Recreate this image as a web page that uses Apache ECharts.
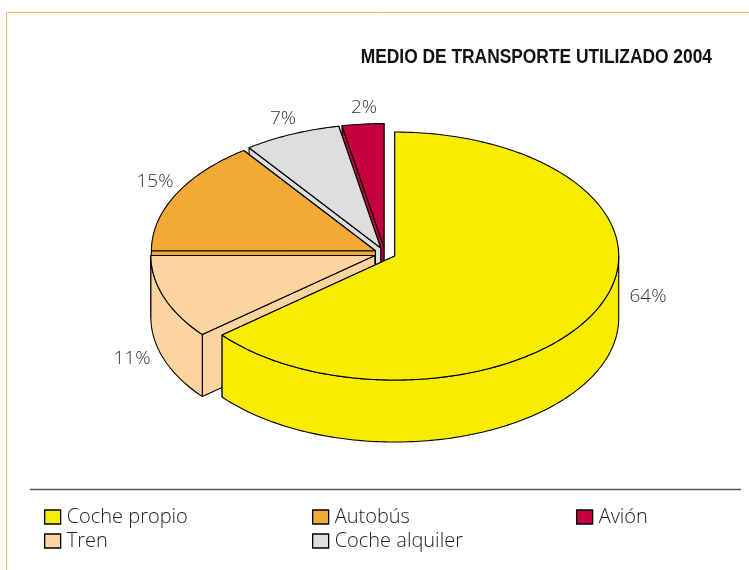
<!DOCTYPE html>
<html><head><meta charset="utf-8">
<style>html,body{margin:0;padding:0;background:#fff}#c{width:749px;height:570px}</style>
<script src="https://cdn.jsdelivr.net/npm/echarts@6/dist/echarts.min.js"></script>
</head><body><div id="c"></div>
<script>
// Data
const categories = ['Coche propio','Tren','Autobús','Coche alquiler','Avión'];
const shares = [64, 11, 15, 7, 3];            // slice sizes as drawn
const shareLabels = ['64%','11%','15%','7%','2%']; // labels as printed
const colors = ['#F8EC00','#FCD4A0','#F2A935','#DEDEDE','#C4003F'];
const titleText = 'MEDIO DE TRANSPORTE UTILIZADO 2004';

// Layout
const PIE = {cx:385, cy:253.5, rx:224, ry:124, explode:0.048, depth:0.5};
const labelPos = [[648,297],[132,358.5],[155,182],[283,119],[364,108]];
const FONT = '"Open Sans"';

const total = shares.reduce((a,b)=>a+b,0);
let acc = 0;
const starts = shares.map(s=>{const v=acc; acc+=s; return v;});

function renderSlice(params, api){
  const a0 = api.value(0)/total*2*Math.PI, a1 = (api.value(0)+api.value(1))/total*2*Math.PI;
  const mid=(a0+a1)/2, ox=PIE.explode*Math.sin(mid), oy=PIE.explode*Math.cos(mid);
  const dz = api.size([0,PIE.depth])[1];
  const pt=(a,r,z)=>{const p=api.coord([ox+r*Math.sin(a),oy+r*Math.cos(a)]);return [p[0],p[1]+(z?dz:0)];};
  const style={fill:api.visual('color'),stroke:'#000',lineWidth:1.1,lineJoin:'round'};
  const arc=(b0,b1,z)=>{const n=Math.max(2,Math.ceil(Math.abs(b1-b0)/(Math.PI/180)));const o=[];for(let i=0;i<=n;i++)o.push(pt(b0+(b1-b0)*i/n,1,z));return o;};
  const poly=pts=>({type:'polygon',shape:{points:pts},style});
  const children=[];
  children.push(poly([pt(a1,0,0),pt(a1,1,0),pt(a1,1,1),pt(a1,0,1)]));
  children.push(poly([pt(a0,0,0),pt(a0,1,0),pt(a0,1,1),pt(a0,0,1)]));
  const r0=Math.max(a0,Math.PI/2), r1=Math.min(a1,Math.PI*1.5);
  if(r1>r0) children.push(poly(arc(r0,r1,0).concat(arc(r1,r0,1))));
  children.push(poly([pt(a0,0,0)].concat(arc(a0,a1,0))));
  return {type:'group',children};
}

// back-to-front drawing order
const order = categories.map((_,i)=>i).reverse();
const series = order.map(i=>({
  type:'custom', name:categories[i], coordinateSystem:'cartesian2d',
  itemStyle:{color:colors[i]}, silent:true, animation:false,
  renderItem:renderSlice, data:[[starts[i],shares[i]]], encode:{x:0,y:1}
}));

const legendBase={orient:'vertical',icon:'rect',itemWidth:16,itemHeight:14,itemGap:4,selectedMode:false,
  itemStyle:{borderColor:'#000',borderWidth:1.3},
  textStyle:{fontFamily:FONT,fontWeight:300,fontSize:20,lineHeight:14,color:'#222',padding:[0,0,0,1]},padding:0,top:507};

const chart=echarts.init(document.getElementById('c'),null,{renderer:'canvas'});
chart.setOption({
  animation:false, backgroundColor:'#fff',
  grid:{left:PIE.cx-PIE.rx,top:PIE.cy-PIE.ry,width:2*PIE.rx,height:2*PIE.ry},
  xAxis:{type:'value',min:-1,max:1,show:false},
  yAxis:{type:'value',min:-1,max:1,show:false},
  legend:[
    Object.assign({},legendBase,{left:44,data:[categories[0],categories[1]]}),
    Object.assign({},legendBase,{left:312,data:[categories[2],categories[3]]}),
    Object.assign({},legendBase,{left:576,data:[categories[4]]})
  ],
  series,
  graphic:[
    {type:'line',silent:true,shape:{x1:6,y1:12.5,x2:749,y2:12.5},style:{stroke:'#FBBB66',lineWidth:1}},
    {type:'line',silent:true,shape:{x1:6.5,y1:12,x2:6.5,y2:570},style:{stroke:'#FBBB66',lineWidth:1}},
    {type:'line',silent:true,shape:{x1:30,y1:489.5,x2:741,y2:489.5},style:{stroke:'#555',lineWidth:1.3}},
    {type:'text',silent:true,x:712,y:57,scaleX:0.827,
      style:{text:titleText,fontFamily:'"Liberation Sans"',fontWeight:'bold',fontSize:21,fill:'#111',align:'right',verticalAlign:'middle'}}
  ].concat(shareLabels.map((t,i)=>({type:'text',silent:true,x:labelPos[i][0],y:labelPos[i][1],
    style:{text:t,fontFamily:FONT,fontWeight:300,fontSize:19,fill:'#333',align:'center',verticalAlign:'middle'}})))
});
</script></body></html>
